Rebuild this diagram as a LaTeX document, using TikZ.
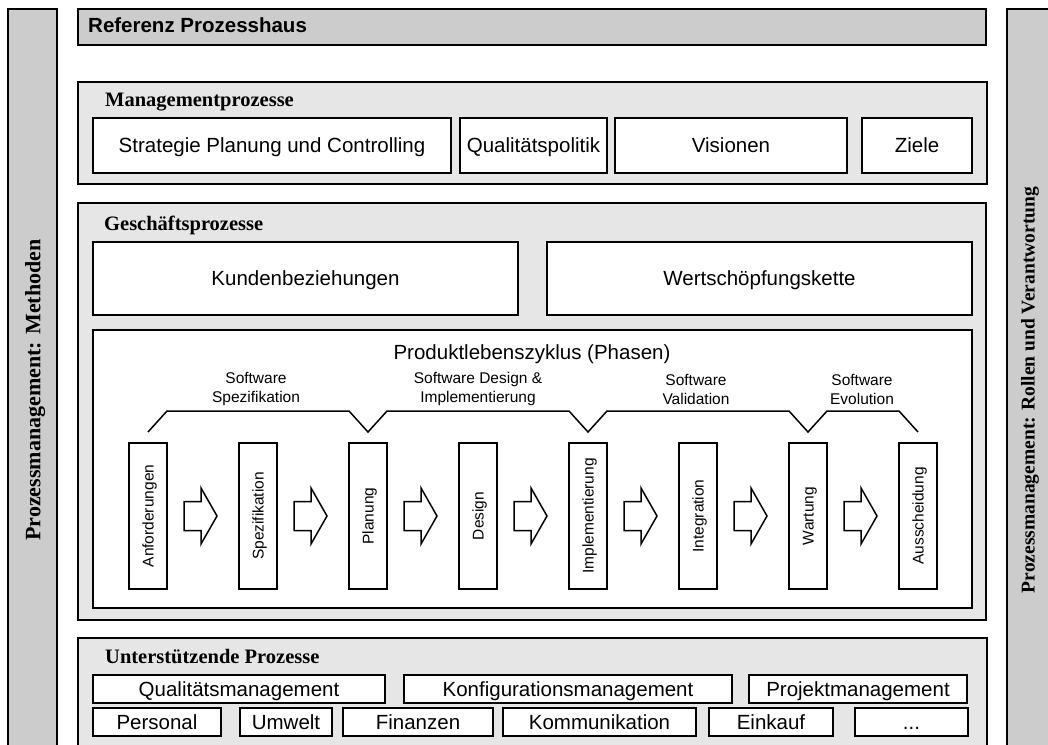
\documentclass[tikz,border=0pt]{standalone}
\usepackage{fontspec}
\setmainfont{Liberation Serif}
\newfontfamily\arialfont{Liberation Sans}
\usetikzlibrary{calc}
\definecolor{pillargray}{HTML}{CCCCCC}
\definecolor{secgray}{HTML}{E6E6E6}
\tikzset{
  frame/.style={draw, line width=1.6pt, inner sep=0pt, outer sep=0pt},
  pillar/.style={frame, fill=pillargray, minimum width=49pt, minimum height=766pt},
  pillarlabel/.style={rotate=90, inner sep=0pt, text height=13.4pt, text depth=0pt,
                      font=\bfseries\fontsize{19.5}{24}\selectfont},
  section/.style={frame, fill=secgray},
  wbox/.style={draw, line width=1.5pt, fill=white, inner sep=0pt, outer sep=0pt,
               text height=14.8pt, text depth=0pt,
               font=\arialfont\fontsize{20.5}{24}\selectfont},
  phase/.style={draw, line width=1.5pt, fill=white, inner sep=0pt, outer sep=0pt,
                minimum width=38pt, minimum height=146pt},
  phaselabel/.style={rotate=90, inner sep=0pt, text height=11.2pt, text depth=0pt,
                     font=\arialfont\fontsize{15.5}{18}\selectfont},
  sectitle/.style={anchor=base west, inner sep=0pt, font=\bfseries\fontsize{20.5}{24}\selectfont},
  bracelabel/.style={align=center, inner sep=0pt, font=\arialfont\fontsize{15.5}{19}\selectfont},
  brace/.style={line width=1.5pt, line join=miter},
  blockarrow/.pic={\draw[line width=1.5pt, fill=white, line join=miter]
      (0,-14.5) -- (17,-14.5) -- (17,-28) -- (33,0) -- (17,28) -- (17,14.5) -- (0,14.5) -- cycle;}
}
\begin{document}
\begin{tikzpicture}[x=1pt, y=-1pt]
\useasboundingbox (0,0) rectangle (1048,744);
\clip (0,0) rectangle (1048,744);
\fill[white] (0,0) rectangle (1048,744);

% pillars
\node[pillar] (lp) at (32.5,392) {};
\node[pillarlabel, font=\bfseries\fontsize{22}{26}\selectfont, text height=14.6pt] (lptext) at (33,390) {Prozessmanagement: Methoden};
\node[pillar] (rp) at (1031.5,392) {};
\node[pillarlabel] (rptext) at (1028,390) {Prozessmanagement: Rollen und Verantwortung};

% top bar
\node[frame, fill=pillargray, minimum width=908pt, minimum height=36pt] (top) at (532,27) {};
\node[anchor=base west, inner sep=0pt, font=\arialfont\bfseries\fontsize{20.5}{24}\selectfont] (toptitle) at (88,32.5) {Referenz Prozesshaus};

% Managementprozesse
\node[section, minimum width=909pt, minimum height=102pt] (mgmt) at (532.5,133) {};
\node[sectitle] (mgmttitle) at (105,106) {Managementprozesse};
\node[wbox, minimum width=358pt, minimum height=55pt] (strat) at (272,145.5) {Strategie Planung und Controlling};
\node[wbox, minimum width=147pt, minimum height=55pt] (qpol) at (533.5,145.5) {Qualitätspolitik};
\node[wbox, minimum width=232pt, minimum height=55pt] (vis) at (731,145.5) {Visionen};
\node[wbox, minimum width=110pt, minimum height=55pt] (ziele) at (917,145.5) {Ziele};

% Geschaeftsprozesse
\node[section, minimum width=908pt, minimum height=417pt] (gesch) at (532,411.5) {};
\node[sectitle] (geschtitle) at (104,230) {Geschäftsprozesse};
\node[wbox, minimum width=425pt, minimum height=73pt] (kunden) at (305.5,278.5) {Kundenbeziehungen};
\node[wbox, minimum width=425pt, minimum height=73pt] (wert) at (759.5,278.5) {Wertschöpfungskette};
\node[wbox, minimum width=879pt, minimum height=278pt] (plz) at (532.5,469) {};
\node[anchor=base, inner sep=0pt, font=\arialfont\fontsize{20.5}{24}\selectfont] (plztitle) at (532,359) {Produktlebenszyklus (Phasen)};

% phases
\foreach \n/\x/\t in {1/148/Anforderungen, 2/258/Spezifikation, 3/368/Planung, 4/478/Design,
                      5/588/Implementierung, 6/698/Integration, 7/808/Wartung, 8/918/Ausscheidung} {
  \node[phase] (p\n) at (\x,516) {};
  \node[phaselabel] (pt\n) at (p\n.center) {\t};
}

\foreach \i in {1,...,7} {
  \pic at ($(p\i.east)+(17,0)$) {blockarrow};
}

% braces
\draw[brace] ($(p1.north)+(0,-11)$) -- ++(19,-21) -- ($(p3.north)+(-19,-32)$)
  -- ($(p3.north)+(0,-11)$) -- ++(19,-21) -- ($(p5.north)+(-19,-32)$)
  -- ($(p5.north)+(0,-11)$) -- ++(19,-21) -- ($(p7.north)+(-19,-32)$)
  -- ($(p7.north)+(0,-11)$) -- ++(19,-21) -- ($(p8.north)+(-19,-32)$)
  -- ($(p8.north)+(0,-11)$);
\node[bracelabel] (l1) at (256,389) {Software\\Spezifikation};
\node[bracelabel] (l2) at (478,389) {Software Design \&\\Implementierung};
\node[bracelabel] (l3) at (696,389) {Software\\Validation};
\node[bracelabel] (l4) at (862,389) {Software\\Evolution};

% Unterstuetzende Prozesse
\node[section, minimum width=909pt, minimum height=142pt] (unter) at (532.5,709) {};
\node[sectitle] (untertitle) at (105,663) {Unterstützende Prozesse};
\node[wbox, minimum width=292pt, minimum height=28pt] (qm) at (239,689) {Qualitätsmanagement};
\node[wbox, minimum width=328pt, minimum height=28pt] (km) at (568,689) {Konfigurationsmanagement};
\node[wbox, minimum width=218pt, minimum height=28pt] (pm) at (858,689) {Projektmanagement};
\node[wbox, minimum width=128pt, minimum height=28pt] (pers) at (157,722) {Personal};
\node[wbox, minimum width=92pt, minimum height=28pt] (umw) at (286,722) {Umwelt};
\node[wbox, minimum width=150pt, minimum height=28pt] (fin) at (418,722) {Finanzen};
\node[wbox, minimum width=193pt, minimum height=28pt] (komm) at (599.5,722) {Kommunikation};
\node[wbox, minimum width=124pt, minimum height=28pt] (eink) at (771,722) {Einkauf};
\node[wbox, minimum width=113pt, minimum height=28pt] (dots) at (911.5,722) {...};
\end{tikzpicture}
\end{document}
